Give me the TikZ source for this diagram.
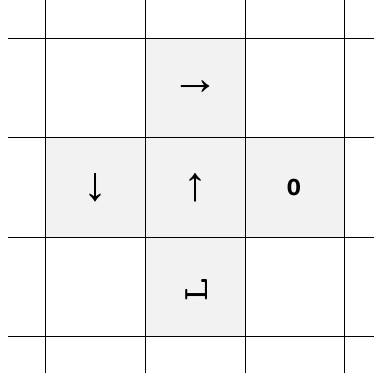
\documentclass[tikz,border=0pt]{standalone}
\usepackage{fontspec}
\setmainfont{DejaVu Sans}
\newfontfamily\arrowfont{Liberation Sans}
\newfontfamily\ofont{DejaVu Sans Mono}
\definecolor{cellgray}{HTML}{F2F2F2}
\begin{document}
\begin{tikzpicture}[x=1pt,y=-1pt,
  cell/.style={fill=cellgray, draw=none, inner sep=0pt, minimum width=99.4pt, minimum height=99.3pt, anchor=north west},
  gridline/.style={line width=1pt, black},
  arrowsym/.style={font=\arrowfont\fontsize{48}{48}\selectfont, inner sep=0pt},
  osym/.style={font=\ofont\bfseries\fontsize{22}{22}\selectfont, inner sep=0pt, xscale=1.1},
  lsym/.style={font=\ttfamily\fontsize{34}{34}\selectfont, inner sep=0pt, rotate=90}]
\useasboundingbox (0,0) rectangle (374,376);
% shaded cells
\node[cell] (c10) at (145.7,38.3) {};
\node[cell] (c01) at (45.7,137.7) {};
\node[cell] (c11) at (145.7,137.7) {};
\node[cell] (c21) at (245,137.7) {};
\node[cell] (c12) at (145.7,237.3) {};
% grid lines
\foreach \x in {45.7,145.7,245,344.3} \draw[gridline] (\x,0) -- (\x,373);
\foreach \y in {38.3,137.7,237.3,336} \draw[gridline] (8,\y) -- (374,\y);
% symbols
\node[arrowsym] (s10) at (c10.center) {→};
\node[arrowsym] (s01) at (c01.center) {↓};
\node[arrowsym] (s11) at (c11.center) {↑};
\node[osym] (s21) at ([xshift=-1pt]c21.center) {O};
\node[lsym] (s12) at ([xshift=1pt,yshift=-3pt]c12.center) {\scalebox{1.35}[1.05]{L}};
\end{tikzpicture}
\end{document}
